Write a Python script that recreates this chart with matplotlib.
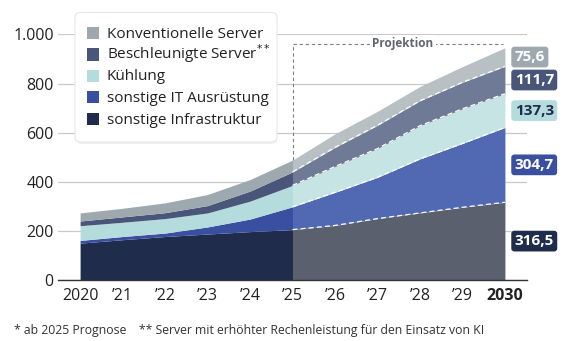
import matplotlib
matplotlib.use("Agg")
import matplotlib.pyplot as plt
import numpy as np
from matplotlib.patches import FancyBboxPatch, Rectangle

plt.rcParams['font.family'] = ['Open Sans', 'DejaVu Sans']

years = [2020, 2021, 2022, 2023, 2024, 2025, 2026, 2027, 2028, 2029, 2030]
tick_labels = ['2020', '’21', '’22', '’23', '’24', '’25', '’26', '’27', '’28', '’29', '2030']

infra = [150, 164, 177, 187, 197, 205, 222, 250, 273, 296, 316.5]
it_equip = [11, 13, 14, 29, 51, 93, 135, 168, 220, 260, 304.7]
cooling = [60, 58, 59, 57, 73, 87, 105, 117, 135, 141, 137.3]
accel = [19, 22, 24, 30, 41, 55, 78, 95, 102, 108, 111.7]
conv = [33, 35, 40, 45, 47, 48, 55, 57, 58, 64, 75.6]

series_names = ['sonstige Infrastruktur', 'sonstige IT Ausrüstung', 'Kühlung',
                'Beschleunigte Server$^{**}$', 'Konventionelle Server']
label_texts = ['316,5', '304,7', '137,3', '111,7', '75,6']

hist_colors = ['#1f2c4c', '#3a4fa0', '#b4dcdc', '#4a5679', '#9ea9af']
proj_colors = ['#5a606d', '#5169b3', '#c6e4e4', '#6f7a96', '#b8c0c3']
label_fg = ['white', 'white', '#1f2c4c', 'white', 'white']

series = [infra, it_equip, cooling, accel, conv]

W, H = 579, 341
fig = plt.figure(figsize=(W / 100, H / 100), dpi=100)
ax = fig.add_axes([0.1002, 0.179, 0.81, 0.72])

x = np.array(years, dtype=float)
data = np.array(series, dtype=float)
cum = np.cumsum(data, axis=0)
lower = np.vstack([np.zeros(len(x)), cum[:-1]])

proj_start = 2025
hmask = x <= proj_start
pmask = x >= proj_start

for i in range(len(series)):
    ax.fill_between(x[hmask], lower[i][hmask], cum[i][hmask], color=hist_colors[i],
                    linewidth=0, zorder=2)
    ax.fill_between(x[pmask], lower[i][pmask], cum[i][pmask], color=proj_colors[i],
                    linewidth=0, zorder=2)
    if i < len(series) - 1:
        ax.plot(x[pmask], cum[i][pmask], color='white', lw=0.9, ls=(0, (4, 2.5)), zorder=3)

ax.set_ylim(0, 1000)
ax.set_xlim(2019.48, 2030.52)
ax.set_yticks([0, 200, 400, 600, 800, 1000])
ax.set_yticklabels(['0', '200', '400', '600', '800', '1.000'])
ax.yaxis.grid(True, color='#c9c9c9', lw=0.9, zorder=0)
ax.set_axisbelow(True)
for s in ['top', 'right', 'left']:
    ax.spines[s].set_visible(False)
ax.spines['bottom'].set_color('#333333')
ax.spines['bottom'].set_linewidth(1.0)
ax.spines['bottom'].set_zorder(4)
ax.tick_params(axis='both', length=0, labelsize=11.5, colors='#222222')
ax.tick_params(axis='y', pad=3)
ax.tick_params(axis='x', pad=6)
ax.set_xticks(years)
ax.set_xticklabels(tick_labels)
ax.get_xticklabels()[-1].set_fontweight('bold')

# projection box
top_y = 962
ax.plot([proj_start, proj_start], [cum[-1][x == proj_start][0], top_y], color='#7a7f85',
        lw=0.8, ls=(0, (3, 2.5)), zorder=3)
ax.plot([proj_start, 2029.95], [top_y, top_y], color='#7a7f85', lw=0.8, ls=(0, (3, 2.5)), zorder=3)
ax.text(2027.6, top_y, 'Projektion', ha='center', va='center', fontsize=8.5,
        fontweight='bold', color='#5f676d',
        bbox=dict(boxstyle='square,pad=0.2', fc='white', ec='none'), zorder=4)

# right labels
for i in range(len(series)):
    mid = lower[i][-1] + data[i][-1] / 2
    ax.annotate(label_texts[i], xy=(x[-1], mid), xytext=(7, 0), textcoords='offset points',
                ha='left', va='center', fontsize=11, fontweight='bold', color=label_fg[i],
                bbox=dict(boxstyle='round,pad=0.22,rounding_size=0.2', fc=hist_colors[i], ec='none'),
                annotation_clip=False, zorder=5)


# manual legend (pixel layout converted to figure fraction)
def fx(px):
    return px / W


def fy(py):
    return 1 - py / H


shadow = FancyBboxPatch((fx(76), fy(144)), fx(277) - fx(76), fy(14) - fy(144),
                        boxstyle='round,pad=0,rounding_size=0.012', transform=fig.transFigure,
                        fc='#000000', ec='none', alpha=0.06, zorder=9)
fig.add_artist(shadow)
box = FancyBboxPatch((fx(75), fy(142)), fx(277) - fx(75), fy(12.5) - fy(142),
                     boxstyle='round,pad=0,rounding_size=0.012', transform=fig.transFigure,
                     fc='white', ec='#e6e6e6', lw=0.8, zorder=10)
fig.add_artist(box)
rows_y = [33, 54.5, 76, 97.5, 119]
order = list(range(len(series)))[::-1]
for r, i in enumerate(order):
    cy = rows_y[r]
    fig.add_artist(Rectangle((fx(87), fy(cy + 6)), fx(99) - fx(87), fy(cy - 6) - fy(cy + 6),
                             transform=fig.transFigure, fc=hist_colors[i], ec='none', zorder=11))
    fig.text(fx(107), fy(cy + 4.5), series_names[i], fontsize=11, color='#222222',
             ha='left', va='baseline', zorder=11)

fig.text(0.024, 0.032, '* ab 2025 Prognose    ** Server mit erhöhter Rechenleistung für den Einsatz von KI',
         fontsize=8.8, color='#333333', ha='left', va='center')

fig.savefig('out.png', dpi=100)
